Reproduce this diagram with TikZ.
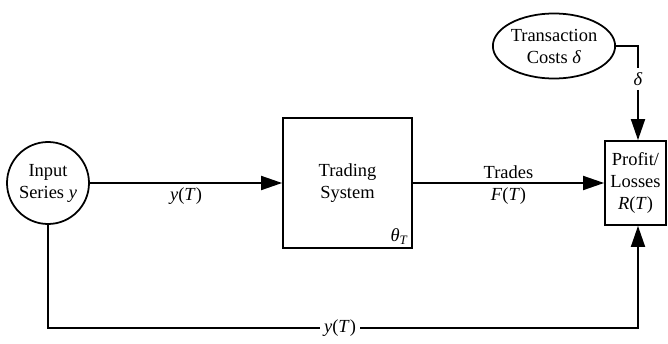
\documentclass[tikz,border=0pt,10pt]{standalone}
\usepackage{fontspec}
\setmainfont{Liberation Serif}
\usetikzlibrary{arrows.meta,shapes.geometric}

\begin{document}
\begin{tikzpicture}[line width=1pt,
        >={Triangle[length=12pt,width=8pt]},
        font=\fontsize{10.5}{12.5}\selectfont,
        blk/.style={draw, align=center, inner sep=2pt},
        lbl/.style={inner sep=2pt}]
        \useasboundingbox (0,0) rectangle (13.36,6.86);

        \node[blk, circle, minimum size=1.64cm, inner sep=1pt] (in) at (0.96, 3.20) {Input\\Series \textit{y}};
        \node[blk, minimum width=2.58cm, minimum height=2.60cm] (ts) at (6.95, 3.20) {Trading\\System};
        \node[lbl, anchor=south east] (theta) at (ts.south east) {\textit{θ}\textsubscript{\textit{T}}};
        \node[blk, minimum width=1.22cm, minimum height=1.68cm] (pl) at (12.71, 3.20) {Profit/\\Losses\\\textit{R}(\textit{T})};
        \node[blk, ellipse, minimum width=2.12cm, minimum height=1.30cm, inner sep=0pt] (tc) at (11.08, 5.94) {Transaction\\Costs \textit{δ}};

        \node[lbl] (dl) at (12.76, 5.28) {\textit{δ}};
        \node[lbl] (yb) at (6.80, 0.30) {\textit{y}(\textit{T})};

        \draw[->] (in) -- (ts) node[midway, below, lbl] (ya) {\textit{y}(\textit{T})};
        \draw[->] (ts) -- (pl)
            node[midway, above, lbl] (tr) {Trades}
            node[midway, below, lbl] (ft) {\textit{F}(\textit{T})};

        % transaction costs feed the profit box from above
        \draw (tc.east) -| (dl.north);
        \draw[->] (dl.south) -- (pl.north -| dl);

        % input series fed straight through underneath
        \draw (in.south) |- (yb.west);
        \draw[->] (yb.east) -| (pl.south -| dl);
    \end{tikzpicture}
\end{document}
